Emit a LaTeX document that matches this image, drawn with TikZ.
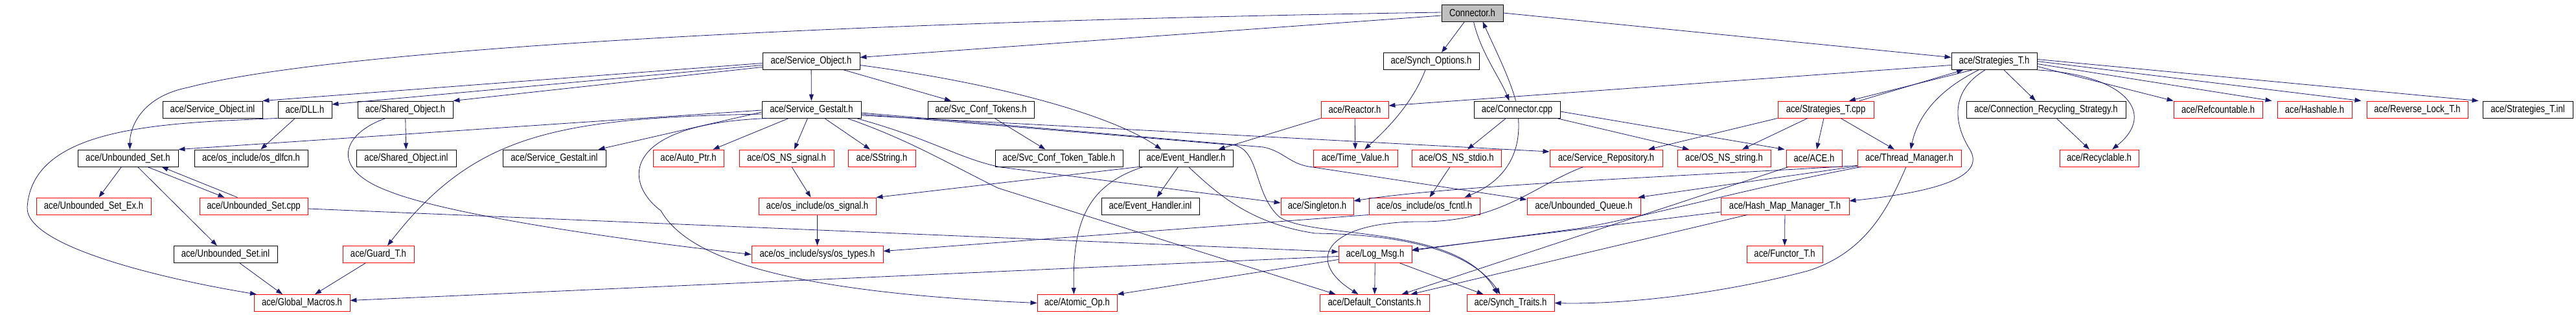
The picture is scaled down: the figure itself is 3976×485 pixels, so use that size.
\documentclass[tikz,border=0pt]{standalone}
\usepackage{fontspec}
\setmainfont{Liberation Sans}[FakeStretch=0.82]
\usepackage{tikz}
\usetikzlibrary{arrows.meta,positioning}
\usepackage{xcolor}
\definecolor{edgeblue}{RGB}{25,25,112}
\definecolor{filered}{RGB}{255,0,0}
\definecolor{mainfill}{RGB}{191,191,191}
\tikzstyle{incl} = [->, >={Triangle[length=10pt, width=7pt]}, color=edgeblue, line width=0.8pt]
\tikzstyle{docfile} = [rectangle, draw=black, fill=white, line width=0.9pt, minimum height=26pt, inner sep=0pt, text centered]
\tikzstyle{extfile} = [docfile, draw=filered]
\tikzstyle{mainfile} = [docfile, fill=mainfill]

\begin{document}
\begin{tikzpicture}[x=1pt, y=-1pt, font=\fontsize{16}{19}\selectfont]
\useasboundingbox (0,0) rectangle (3976,485);
% Connector.h and its direct includes
\node (conn) [mainfile, minimum width=95pt] at (2272.5,20) {Connector.h};
\node (sobj) [docfile, minimum width=150pt] at (1252,94.5) {ace/Service\_Object.h};
\node (synopt) [docfile, minimum width=148pt] at (2209,94.5) {ace/Synch\_Options.h};
\node (strat) [docfile, minimum width=132pt] at (3078,94.5) {ace/Strategies\_T.h};

% second row
\node (sobjinl) [docfile, minimum width=154pt] at (328,169) {ace/Service\_Object.inl};
\node (dll) [docfile, minimum width=83pt] at (470.5,169) {ace/DLL.h};
\node (shobj) [docfile, minimum width=147pt] at (625.5,169) {ace/Shared\_Object.h};
\node (sgest) [docfile, minimum width=153pt] at (1252.5,169) {ace/Service\_Gestalt.h};
\node (svctok) [docfile, minimum width=164pt] at (1514,169) {ace/Svc\_Conf\_Tokens.h};
\node (reactor) [extfile, minimum width=104pt] at (2091,169) {ace/Reactor.h};
\node (conncpp) [docfile, minimum width=133pt] at (2341.5,169) {ace/Connector.cpp};
\node (stratcpp) [extfile, minimum width=148pt] at (2818,169) {ace/Strategies\_T.cpp};
\node (crs) [docfile, minimum width=246pt] at (3158,169) {ace/Connection\_Recycling\_Strategy.h};
\node (refc) [extfile, minimum width=137pt] at (3423.5,169) {ace/Refcountable.h};
\node (hashable) [extfile, minimum width=115pt] at (3572.5,169) {ace/Hashable.h};
\node (revlock) [extfile, minimum width=156pt] at (3731,169) {ace/Reverse\_Lock\_T.h};
\node (stratinl) [docfile, minimum width=139pt] at (3901.5,169) {ace/Strategies\_T.inl};

% third row
\node (ubset) [docfile, minimum width=155pt] at (197.5,244) {ace/Unbounded\_Set.h};
\node (dlfcn) [docfile, minimum width=175pt] at (387.5,244) {ace/os\_include/os\_dlfcn.h};
\node (shobjinl) [docfile, minimum width=154pt] at (627,244) {ace/Shared\_Object.inl};
\node (sgestinl) [docfile, minimum width=159pt] at (855.5,244) {ace/Service\_Gestalt.inl};
\node (autoptr) [extfile, minimum width=109pt] at (1062.5,244) {ace/Auto\_Ptr.h};
\node (nssig) [extfile, minimum width=146pt] at (1214,244) {ace/OS\_NS\_signal.h};
\node (sstring) [extfile, minimum width=104pt] at (1361,244) {ace/SString.h};
\node (svctab) [docfile, minimum width=197pt] at (1634.5,244) {ace/Svc\_Conf\_Token\_Table.h};
\node (evh) [docfile, minimum width=145pt] at (1830.5,244) {ace/Event\_Handler.h};
\node (timev) [extfile, minimum width=130pt] at (2092,244) {ace/Time\_Value.h};
\node (nsstdio) [extfile, minimum width=138pt] at (2248,244) {ace/OS\_NS\_stdio.h};
\node (servrep) [extfile, minimum width=174pt] at (2479,244) {ace/Service\_Repository.h};
\node (nsstring) [extfile, minimum width=144pt] at (2661,244) {ace/OS\_NS\_string.h};
\node (ace) [extfile, minimum width=86pt] at (2800,244) {ace/ACE.h};
\node (thrmgr) [extfile, minimum width=160pt] at (2947,244) {ace/Thread\_Manager.h};
\node (recyc) [extfile, minimum width=122pt] at (3240,244) {ace/Recyclable.h};

% fourth row
\node (ubsetex) [extfile, minimum width=177pt] at (144.5,318) {ace/Unbounded\_Set\_Ex.h};
\node (ubsetcpp) [extfile, minimum width=167pt] at (391.5,318) {ace/Unbounded\_Set.cpp};
\node (ossig) [extfile, minimum width=181pt] at (1261.5,318) {ace/os\_include/os\_signal.h};
\node (evhinl) [docfile, minimum width=151pt] at (1775.5,318) {ace/Event\_Handler.inl};
\node (singleton) [extfile, minimum width=112pt] at (2033,318) {ace/Singleton.h};
\node (osfcntl) [extfile, minimum width=171pt] at (2198.5,318) {ace/os\_include/os\_fcntl.h};
\node (unbq) [extfile, minimum width=175pt] at (2444.5,318) {ace/Unbounded\_Queue.h};
\node (hashmap) [extfile, minimum width=198pt] at (2755,318) {ace/Hash\_Map\_Manager\_T.h};

% fifth row
\node (ubsetinl) [docfile, minimum width=160pt] at (348,392.5) {ace/Unbounded\_Set.inl};
\node (guard) [extfile, minimum width=110pt] at (584,392.5) {ace/Guard\_T.h};
\node (ostypes) [extfile, minimum width=203pt] at (1261.5,392.5) {ace/os\_include/sys/os\_types.h};
\node (logmsg) [extfile, minimum width=113pt] at (2122.5,392.5) {ace/Log\_Msg.h};
\node (functor) [extfile, minimum width=117pt] at (2754.5,392.5) {ace/Functor\_T.h};

% bottom row
\node (gmac) [extfile, minimum width=148pt] at (466,467.5) {ace/Global\_Macros.h};
\node (atomic) [extfile, minimum width=123pt] at (1662.5,467.5) {ace/Atomic\_Op.h};
\node (defc) [extfile, minimum width=169pt] at (2121.5,467.5) {ace/Default\_Constants.h};
\node (synch) [extfile, minimum width=135pt] at (2331.5,467.5) {ace/Synch\_Traits.h};

% Connector.h
\draw[incl] ([yshift=-4]conn.west) -- ([yshift=6]sobj.east);
\draw[incl] ([yshift=1]conn.west) .. controls (1200,35) and (500,80) .. (290,135) .. controls (215,150) and (200,200) .. ([xshift=3]ubset.north);
\draw[incl] (conn.east) -- ([yshift=6]strat.west);
\draw[incl] ([xshift=-12]conn.south) -- ([xshift=16]synopt.north);
\draw[incl] ([xshift=2]conn.south) .. controls (2285,80) and (2315,120) .. ([xshift=-12]conncpp.north);
\draw[incl] ([xshift=-2]conncpp.north) .. controls (2330,120) and (2305,70) .. ([xshift=16]conn.south);

% Service_Object.h
\draw[incl] ([yshift=-3]sobj.west) -- (sobjinl.north east);
\draw[incl] ([yshift=-6]sobj.west) -- ([yshift=8]dll.east);
\draw[incl] ([yshift=-9]sobj.west) -- (shobj.north east);
\draw[incl] (sobj) -- (sgest);
\draw[incl] ([xshift=-25]sobj.south east) -- ([xshift=-46]svctok.north);
\draw[incl] ([yshift=-6]sobj.east) .. controls (1550,130) and (1720,180) .. ([xshift=-38]evh.north);

% Service_Gestalt.h
\draw[incl] ([yshift=-4]sgest.west) -- ([xshift=-12]sgestinl.north east);
\draw[incl] ([yshift=-1]sgest.west) -- (ubset.north east);
\draw[incl] ([yshift=-7]sgest.west) .. controls (850,182) and (730,210) .. ([xshift=14]guard.north);
\draw[incl] ([xshift=-65]sgest.south) .. controls (960,190) and (960,280) .. (1020,325) .. controls (1060,395) and (1200,450) .. (atomic.west);
\draw[incl] ([xshift=-35]sgest.south) -- ([xshift=38]autoptr.north);
\draw[incl] ([xshift=-6]sgest.south) -- ([xshift=12]nssig.north);
\draw[incl] ([xshift=20]sgest.south) -- ([xshift=-18]sstring.north);
\draw[incl] ([xshift=-8]sgest.south east) .. controls (1440,215) and (1480,245) .. (1545,258) -- ([yshift=5]singleton.west);
\draw[incl] ([xshift=-22]sgest.south east) .. controls (1400,215) and (1450,245) .. (1540,290) -- ([xshift=-60]defc.north);
\draw[incl] ([yshift=-9]sgest.east) -- ([yshift=10]servrep.west);
\draw[incl] ([yshift=-7]sgest.east) -- (1905,224) .. controls (1945,232) and (1935,300) .. (1975,335) .. controls (2030,370) and (2250,345) .. ([xshift=-20]synch.north);
\draw[incl] ([yshift=-5]sgest.east) -- (1950,227) .. controls (1980,233) and (1990,252) .. (2020,257) -- ([yshift=10]unbq.west);

% DLL.h and Shared_Object.h
\draw[incl] ([xshift=-15]dll.south) -- ([xshift=15]dlfcn.north);
\draw[incl] (dll.south west) .. controls (250,190) and (50,195) .. (42,320) .. controls (40,380) and (250,430) .. ([xshift=-70]gmac.north);
\draw[incl] (shobj) -- (shobjinl);
\draw[incl] ([xshift=-30]shobj.south) .. controls (530,205) and (505,260) .. (600,295) .. controls (700,335) and (1000,375) .. (ostypes.west);

% Unbounded_Set.h
\draw[incl] ([xshift=-10]ubset.south) -- ([xshift=8]ubsetex.north);
\draw[incl] ([xshift=15]ubset.south) -- ([xshift=-13]ubsetinl.north);
\draw[incl] ([xshift=30]ubset.south) -- ([xshift=-45]ubsetcpp.north);
\draw[incl] ([xshift=-25]ubsetcpp.north) -- ([xshift=52]ubset.south);
\draw[incl] ([yshift=-4]ubsetcpp.east) -- ([yshift=4]logmsg.west);
\draw[incl] ([xshift=22]ubsetinl.south) -- ([xshift=-30]gmac.north);
\draw[incl] ([xshift=-20]guard.south) -- ([xshift=20]gmac.north);

% Event_Handler.h
\draw[incl] ([xshift=-12]evh.south) -- ([xshift=10]evhinl.north);
\draw[incl] (evh.south west) -- (ossig.north east);
\draw[incl] ([xshift=-66]evh.south) .. controls (1680,285) and (1655,340) .. ([xshift=-5]atomic.north);
\draw[incl] ([xshift=4]evh.south) .. controls (1880,300) and (1930,345) .. (2030,360) .. controls (2200,362) and (2280,400) .. ([xshift=-16]synch.north);

% Reactor.h and Synch_Options.h
\draw[incl] (reactor) -- (timev);
\draw[incl] (reactor.south west) -- ([xshift=50]evh.north);
\draw[incl] ([xshift=-9]synopt.south) .. controls (2180,160) and (2140,200) .. ([xshift=14]timev.north);

% Connector.cpp
\draw[incl] ([xshift=-17]conncpp.south) -- ([xshift=17]nsstdio.north);
\draw[incl] ([xshift=2]conncpp.south) .. controls (2348,240) and (2320,280) .. ([xshift=62]osfcntl.north);
\draw[incl] ([xshift=-6]conncpp.south east) -- ([xshift=-54]nsstring.north);
\draw[incl] ([yshift=-3]conncpp.east) -- ([xshift=-2]ace.north west);

% Strategies_T.h
\draw[incl] ([yshift=-6]strat.west) -- ([yshift=6]reactor.east);
\draw[incl] ([xshift=-34]strat.south) -- ([xshift=36]stratcpp.north);
\draw[incl] ([xshift=52]stratcpp.north) -- ([xshift=-48]strat.south);
\draw[incl] ([xshift=-24]strat.south) .. controls (2990,140) and (2960,180) .. ([xshift=2]thrmgr.north);
\draw[incl] ([xshift=-14]strat.south) .. controls (3010,140) and (3015,190) .. (3040,230) .. controls (3065,270) and (3000,295) .. ([yshift=8]hashmap.east);
\draw[incl] ([xshift=15]strat.south) -- ([xshift=-16]crs.north);
\draw[incl] (strat.south east) .. controls (3280,115) and (3330,175) .. ([xshift=20]recyc.north);
\draw[incl] ([yshift=-8]strat.east) -- (refc.north west);
\draw[incl] ([yshift=-4]strat.east) -- ([xshift=-8]hashable.north west);
\draw[incl] (strat.east) -- ([xshift=-8]revlock.north west);
\draw[incl] ([yshift=3]strat.east) -- ([xshift=-6]stratinl.north west);
\draw[incl] ([xshift=16]crs.south) -- ([xshift=-15]recyc.north);

% Strategies_T.cpp
\draw[incl] (stratcpp.south west) -- ([xshift=65]servrep.north);
\draw[incl] ([xshift=-28]stratcpp.south) -- ([xshift=28]nsstring.north);
\draw[incl] ([xshift=-3]stratcpp.south) -- ([xshift=4]ace.north);
\draw[incl] ([xshift=23]stratcpp.south) -- ([xshift=-23]thrmgr.north);

% Thread_Manager.h, ACE.h, Hash_Map_Manager_T.h
\draw[incl] ([yshift=2]thrmgr.south west) .. controls (2600,272) and (2250,285) .. ([yshift=8]singleton.east);
\draw[incl] ([yshift=1]thrmgr.south west) -- ([xshift=-4]unbq.north east);
\draw[incl] ([xshift=6]thrmgr.south west) .. controls (2700,290) and (2560,330) .. (2440,352) -- ([yshift=6]logmsg.east);
\draw[incl] ([xshift=-5]thrmgr.south) .. controls (2915,320) and (2880,390) .. (2790,418) .. controls (2650,455) and (2500,470) .. (synch.east);
\draw[incl] ([xshift=4]ace.south west) -- ([xshift=42]defc.north);
\draw[incl] (hashmap) -- (functor);
\draw[incl] ([yshift=-9]hashmap.west) -- ([yshift=7]logmsg.east);
\draw[incl] ([xshift=-58]hashmap.south) -- ([xshift=56]defc.north);

% Service_Repository.h
\draw[incl] ([xshift=-35]servrep.south) .. controls (2370,285) and (2320,340) .. (2200,342) .. controls (2050,340) and (2010,400) .. ([xshift=-25]defc.north);

% os headers
\draw[incl] ([xshift=8]nssig.south) -- ([xshift=-10]ossig.north);
\draw[incl] (ossig) -- (ostypes);
\draw[incl] ([xshift=-10]nsstdio.south) -- ([xshift=8]osfcntl.north);
\draw[incl] (osfcntl.south west) -- ([yshift=5]ostypes.east);
\draw[incl] ([xshift=21]svctok.south) -- ([xshift=-21]svctab.north);

% Log_Msg.h
\draw[incl] (logmsg) -- (defc);
\draw[incl] ([xshift=38]logmsg.south) -- ([xshift=-42]synch.north);
\draw[incl] ([yshift=-8]logmsg.west) -- (atomic.north east);
\draw[incl] ([yshift=-3]logmsg.west) -- ([yshift=4]gmac.east);
\end{tikzpicture}
\end{document}
